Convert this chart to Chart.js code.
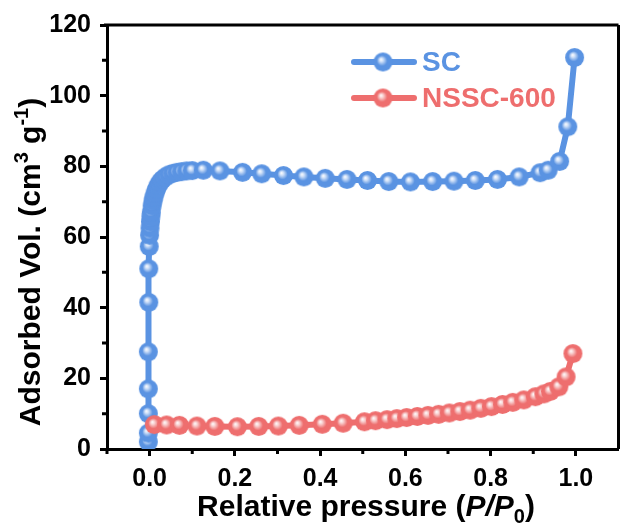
<!DOCTYPE html>
<html>
<head>
<meta charset="utf-8">
<script src="https://cdn.jsdelivr.net/npm/chart.js@4/dist/chart.umd.min.js"></script>
<style>
  html, body { margin: 0; padding: 0; background: #fff; overflow: hidden; width: 625px; height: 525px; }
  canvas { display: block; }
</style>
</head>
<body>
<canvas id="isotherm" width="634" height="525"></canvas>
<script>
// ── Data ──────────────────────────────────────
const scPressure = [-0.003, -0.003, -0.003, -0.003, -0.003, -0.002, -0.002, -0.001, 0.000, 0.001,
  0.002, 0.003, 0.004, 0.006, 0.008, 0.010, 0.013, 0.016, 0.020, 0.025, 0.030, 0.037, 0.045,
  0.054, 0.064, 0.075, 0.087, 0.100, 0.126, 0.165, 0.218, 0.263, 0.314, 0.362, 0.412, 0.463,
  0.511, 0.561, 0.612, 0.664, 0.714, 0.764, 0.816, 0.867, 0.916, 0.935, 0.962, 0.981, 0.997];
const scVolume = [2.0, 4.5, 10.0, 17.0, 27.5, 41.5, 51.0, 57.3, 60.5, 62.5,
  64.3, 65.8, 67.0, 68.8, 70.2, 71.3, 72.5, 73.5, 74.6, 75.6, 76.3, 77.0, 77.6,
  78.0, 78.3, 78.5, 78.7, 78.8, 78.9, 78.7, 78.3, 77.9, 77.4, 77.0, 76.6, 76.3,
  76.0, 75.7, 75.6, 75.7, 75.8, 76.0, 76.3, 77.0, 78.2, 78.9, 81.4, 91.2, 110.8];

const nsscPressure = [0.011, 0.040, 0.070, 0.111, 0.153, 0.206, 0.256, 0.302, 0.351, 0.405, 0.454,
  0.504, 0.530, 0.557, 0.580, 0.603, 0.628, 0.653, 0.678, 0.703, 0.728, 0.752, 0.777, 0.802,
  0.828, 0.852, 0.878, 0.905, 0.925, 0.940, 0.960, 0.977, 0.993];
const nsscVolume = [6.9, 6.8, 6.7, 6.5, 6.4, 6.3, 6.4, 6.5, 6.7, 7.0, 7.3,
  7.7, 8.0, 8.3, 8.6, 8.9, 9.2, 9.5, 9.8, 10.2, 10.6, 11.0, 11.5, 12.0,
  12.6, 13.2, 13.9, 14.8, 15.6, 16.3, 17.6, 20.4, 27.0];

const seriesNames = ['SC', 'NSSC-600'];
const xTicks = [0, 0.2, 0.4, 0.6, 0.8, 1.0];
const xMinorTicks = [-0.1, 0.1, 0.3, 0.5, 0.7, 0.9];
const yTicks = [0, 20, 40, 60, 80, 100, 120];
const yMinorTicks = [10, 30, 50, 70, 90, 110];

const BLUE = '#5a93e2';
const RED  = '#ee6e6e';
const FONT = "'Liberation Sans', Arial, sans-serif";

// ── Shaded sphere markers ─────────────────────

function ball(color, light, r) {
  const c = document.createElement('canvas');
  const s = Math.ceil(r * 2) + 2;
  c.width = c.height = s;
  const g = c.getContext('2d');
  const cx = s / 2, cy = s / 2;
  const grad = g.createRadialGradient(cx - r * 0.22, cy - r * 0.28, 0, cx, cy, r);
  grad.addColorStop(0, '#ffffff');
  grad.addColorStop(0.2, light);
  grad.addColorStop(0.55, color);
  grad.addColorStop(1, color);
  g.fillStyle = grad;
  g.beginPath(); g.arc(cx, cy, r, 0, Math.PI * 2); g.fill();
  return c;
}
const blueBall = ball(BLUE, '#cfe0f8', 9.5);
const redBall  = ball(RED, '#f9d3d3', 9.5);

const toPoints = (xs, ys) => xs.map((x, i) => ({ x, y: ys[i] }));

// ── Frame, minor ticks, titles, legend ────────

const decorations = {
  id: 'decorations',
  afterDraw(chart) {
    const { ctx, chartArea: a, scales: { x, y } } = chart;
    ctx.save();
    ctx.strokeStyle = '#000';
    ctx.lineWidth = 3;
    ctx.beginPath();
    ctx.moveTo(a.left - 3, a.top); ctx.lineTo(a.right, a.top);
    ctx.moveTo(a.right, a.top); ctx.lineTo(a.right, a.bottom);
    ctx.stroke();

    // minor ticks
    ctx.beginPath();
    xMinorTicks.forEach((v) => { const px = x.getPixelForValue(v); ctx.moveTo(px, a.bottom); ctx.lineTo(px, a.bottom + 5); });
    yMinorTicks.forEach((v) => { const py = y.getPixelForValue(v); ctx.moveTo(a.left, py); ctx.lineTo(a.left - 5, py); });
    ctx.stroke();

    // x title: Relative pressure (P/P0)
    ctx.fillStyle = '#000';
    ctx.textBaseline = 'alphabetic';
    const big = `bold 30px ${FONT}`, ital = `italic bold 30px ${FONT}`, sub = `bold 20px ${FONT}`;
    drawRich(ctx, [
      { t: 'Relative pressure (', f: big, dy: 0 },
      { t: 'P/P', f: ital, dy: 0 },
      { t: '0', f: sub, dy: 7 },
      { t: ')', f: big, dy: 0 },
    ], 366, 516);

    // y title: Adsorbed Vol. (cm3 g-1)
    ctx.save();
    ctx.translate(40, 262);
    ctx.rotate(-Math.PI / 2);
    drawRich(ctx, [
      { t: 'Adsorbed Vol. (cm', f: big, dy: 0 },
      { t: '3', f: sub, dy: -12 },
      { t: ' g', f: big, dy: 0 },
      { t: '-1', f: sub, dy: -12 },
      { t: ')', f: big, dy: 0 },
    ], 0, 0);
    ctx.restore();

    // legend
    [
      { name: seriesNames[0], color: BLUE, img: blueBall, y: 62 },
      { name: seriesNames[1], color: RED, img: redBall, y: 98 },
    ].forEach((it) => {
      ctx.strokeStyle = it.color;
      ctx.lineWidth = 6;
      ctx.lineCap = 'round';
      ctx.beginPath(); ctx.moveTo(354, it.y); ctx.lineTo(414, it.y); ctx.stroke();
      ctx.drawImage(it.img, 383 - it.img.width / 2, it.y - it.img.height / 2);
      ctx.fillStyle = it.color;
      ctx.font = `bold 28px ${FONT}`;
      ctx.textBaseline = 'middle';
      ctx.fillText(it.name, 422, it.y + 1);
    });
    ctx.restore();
  },
};

function drawRich(ctx, parts, cx, baseline) {
  let total = 0;
  parts.forEach((p) => { ctx.font = p.f; p.w = ctx.measureText(p.t).width; total += p.w; });
  let px = cx - total / 2;
  parts.forEach((p) => { ctx.font = p.f; ctx.fillText(p.t, px, baseline + p.dy); px += p.w; });
}

// ── Chart ─────────────────────────────────────

Chart.defaults.font.family = FONT;
Chart.defaults.color = '#000';

new Chart(document.getElementById('isotherm'), {
  type: 'line',
  data: {
    datasets: [
      {
        label: seriesNames[0],
        data: toPoints(scPressure, scVolume),
        borderColor: BLUE, borderWidth: 6, tension: 0,
        pointStyle: blueBall, pointRadius: 9.5,
        order: 1,
      },
      {
        label: seriesNames[1],
        data: toPoints(nsscPressure, nsscVolume),
        borderColor: RED, borderWidth: 6, tension: 0,
        pointStyle: redBall, pointRadius: 9.5,
        order: 0,
      },
    ],
  },
  options: {
    responsive: false, animation: false, events: [],
    layout: { padding: { top: 25, right: 4, left: 0, bottom: 0 } },
    plugins: { legend: { display: false }, tooltip: { enabled: false } },
    scales: {
      x: {
        type: 'linear', min: -0.1, max: 1.1,
        afterFit: (s) => { s.height = 76; },
        afterBuildTicks: (s) => { s.ticks = xTicks.map((v) => ({ value: v })); },
        grid: { drawOnChartArea: false, tickLength: 7, tickWidth: 3, tickColor: '#000' },
        border: { display: true, width: 3, color: '#000' },
        ticks: { padding: 8, font: { size: 25, weight: 'bold' }, callback: (v) => Number(v).toFixed(1) },
      },
      y: {
        type: 'linear', min: 0, max: 120,
        afterFit: (s) => { s.width = 107; },
        afterBuildTicks: (s) => { s.ticks = yTicks.map((v) => ({ value: v })); },
        grid: { drawOnChartArea: false, tickLength: 7, tickWidth: 3, tickColor: '#000' },
        border: { display: true, width: 3, color: '#000' },
        ticks: { padding: 9, font: { size: 25, weight: 'bold' }, callback: (v) => String(v) },
      },
    },
  },
  plugins: [decorations],
});
</script>
</body>
</html>
